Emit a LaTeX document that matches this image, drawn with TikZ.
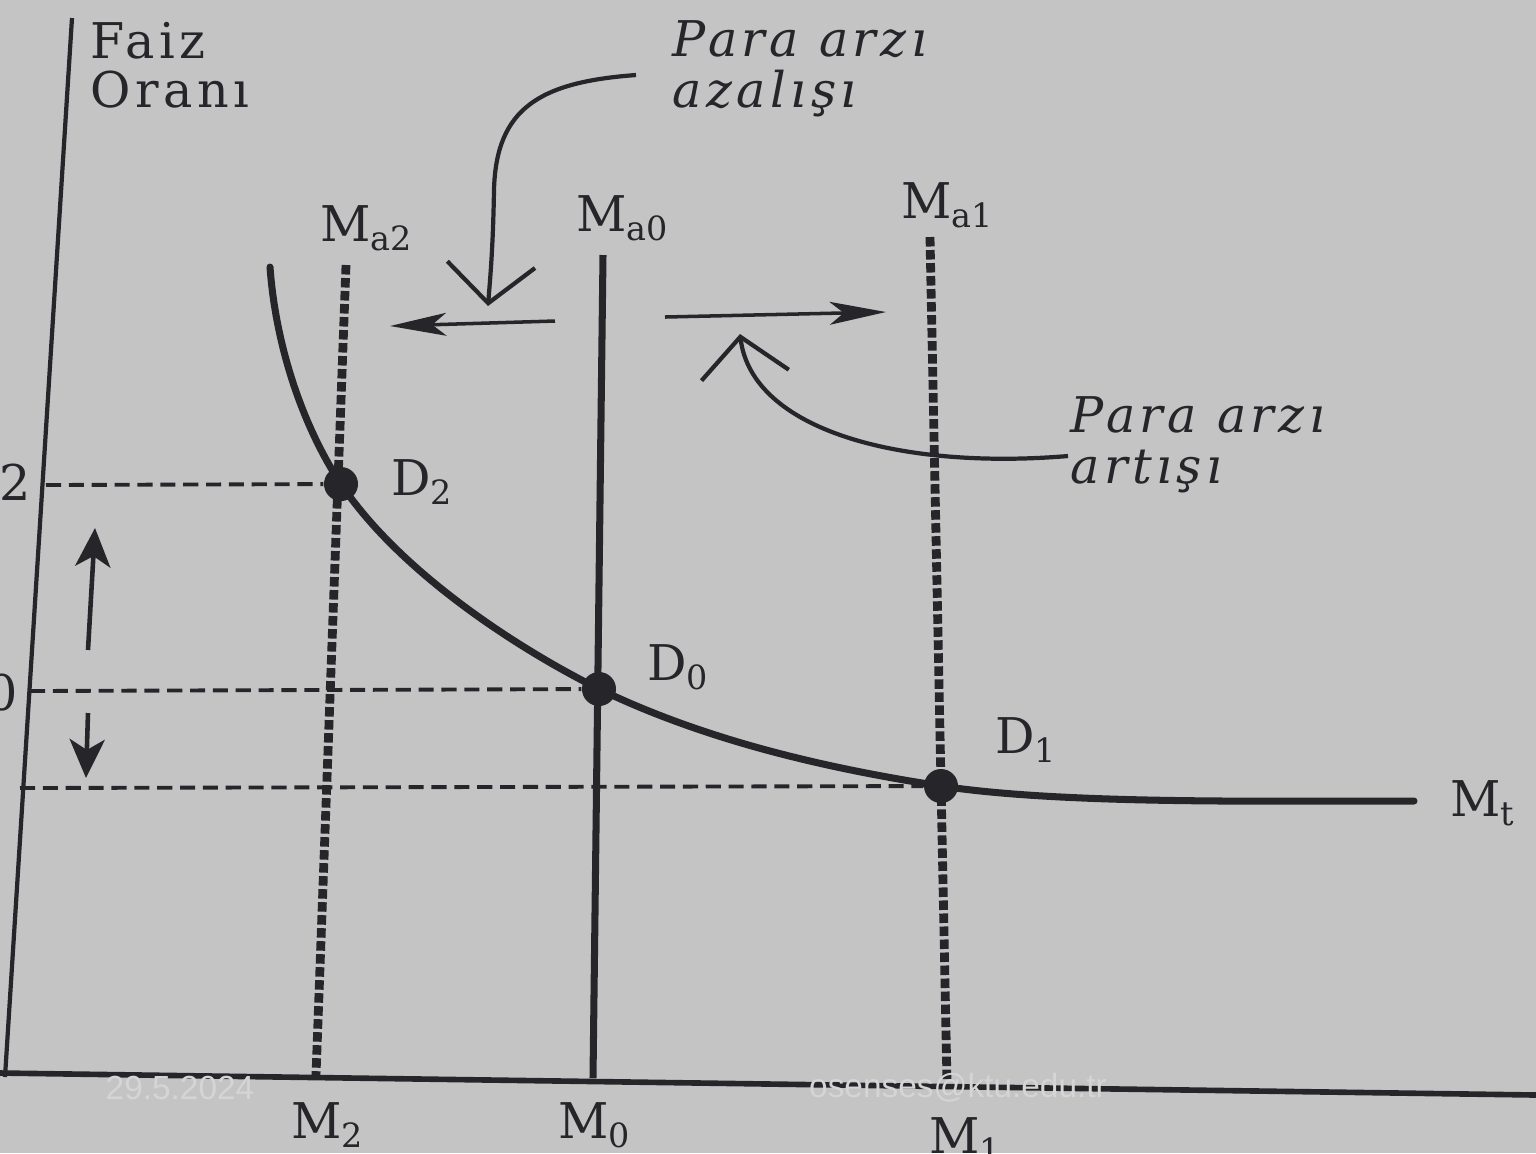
\documentclass[tikz,border=0pt]{standalone}
\usepackage{fontspec}
\setmainfont{DejaVu Serif}
\setsansfont{Liberation Sans}
\newfontfamily\notefont[LetterSpace=9]{DejaVu Serif}
\usetikzlibrary{arrows.meta,positioning}
\definecolor{paper}{RGB}{196,196,197}
\definecolor{ink}{RGB}{38,38,42}
\definecolor{wmark}{RGB}{214,212,212}
\newcommand{\lowsub}[1]{\raisebox{-2.5pt}{\fontsize{9.5}{10}\selectfont #1}}
\tikzset{
  >={Stealth},
  axisline/.style={draw=ink, line width=1.2pt},
  money/.style={draw=ink, line width=2pt},
  moneydots/.style={draw=ink, line width=2.5pt, dash pattern=on 2.7pt off 1pt},
  guide/.style={draw=ink, line width=1.1pt, dash pattern=on 4.3pt off 2.2pt},
  move/.style={draw=ink, line width=1pt, -{Stealth[length=16pt,width=6.5pt,inset=4pt]}},
  rate/.style={draw=ink, line width=1.3pt, -{Stealth[length=11pt,width=10pt,inset=3pt]}},
  curlarrow/.style={draw=ink, line width=1.2pt, -{Straight Barb[length=11pt,width=25pt]}},
  eq/.style={circle, fill=ink, inner sep=0pt, minimum size=0.34cm},
  lbl/.style={text=ink, font=\fontsize{14}{14}\selectfont, inner sep=0pt},
  note/.style={text=ink, align=left, font=\notefont\itshape\fontsize{14}{14.5}\selectfont, inner sep=0pt, anchor=north west},
  watermark/.style={text=wmark, font=\sffamily\fontsize{9.5}{10}\selectfont, inner sep=0pt},
}

\begin{document}
\begin{tikzpicture}[x=0.01cm, y=-0.01cm]
  \fill[paper] (0,0) rectangle (1536,1153);
  \useasboundingbox (0,0) rectangle (1536,1153);

  % axes
  \coordinate (ytop)   at (72,18);
  \coordinate (ybot)   at (5,1077);
  \coordinate (xleft)  at (0,1073);
  \coordinate (xright) at (1536,1095);
  \draw[axisline] (ytop) -- (ybot);
  \draw[axisline, line width=1.6pt] (xleft) -- (xright);
  \node[text=ink, align=left, anchor=north west, inner sep=0pt,
        font=\notefont\fontsize{14}{13.8}\selectfont] (faiz) at (90,22) {Faiz\\Oranı};

  % money supply lines
  \coordinate (a2top) at (346,265);  \coordinate (a2bot) at (316,1075);
  \coordinate (a0top) at (603,255);  \coordinate (a0bot) at (593,1078);
  \coordinate (a1top) at (930,237);  \coordinate (a1bot) at (947,1082);
  \draw[moneydots] (a2top) -- (a2bot);
  \draw[money] (a0top) -- (a0bot);
  \draw[moneydots] (a1top) -- (a1bot);

  % equilibria
  \node[eq] (D2) at (341,484) {};
  \node[eq] (D0) at (599,689) {};
  \node[eq] (D1) at (941,786) {};
  \coordinate (r2) at (46,485);
  \coordinate (r0) at (30,691);
  \coordinate (r1) at (20,788);
  \draw[guide] (r2) -- (D2);
  \draw[guide] (r0) -- (D0);
  \draw[guide] (r1) -- (D1);

  % demand curve
  \coordinate (mtstart) at (270,267);
  \coordinate (mtend) at (1414,801);
  \draw[money, line cap=round] (mtstart) .. controls (276,350) and (305,430) .. (D2.center)
    .. controls (397,568) and (509,644) .. (D0.center)
    .. controls (709,742) and (831,769) .. (D1.center)
    .. controls (1060,804) and (1250,801) .. (mtend);

  % labels
  \node[lbl] (ma2) at (366,228) {M\lowsub{a2}};
  \node[lbl] (ma0) at (622,218) {M\lowsub{a0}};
  \node[lbl] (ma1) at (947,205) {M\lowsub{a1}};
  \node[lbl, right=0.32cm of D2, yshift=0.02cm] (d2) {D\lowsub{2}};
  \node[lbl, right=0.3cm of D0, yshift=0.22cm] (d0) {D\lowsub{0}};
  \node[lbl, right=0.36cm of D1, yshift=0.46cm] (d1) {D\lowsub{1}};
  \node[lbl] (mt) at (1482,803) {M\lowsub{t}};
  \node[lbl] (m2) at (327,1125) {M\lowsub{2}};
  \node[lbl] (m0) at (594,1125) {M\lowsub{0}};
  \node[lbl] (m1) at (965,1140) {M\lowsub{1}};
  \node[lbl] (t2) at (15,482) {2};
  \node[lbl] (t0) at (2,693) {0};

  % shifts of supply
  \coordinate (lstart) at (555,321);  \coordinate (lend) at (390,326);
  \coordinate (rstart) at (665,317);  \coordinate (rend) at (886,312);
  \draw[move] (lstart) -- (lend);
  \draw[move] (rstart) -- (rend);
  \coordinate (upstart) at (88,650);   \coordinate (upend) at (95,528);
  \coordinate (dnstart) at (88,713);   \coordinate (dnend) at (86,778);
  \draw[rate] (upstart) -- (upend);
  \draw[rate] (dnstart) -- (dnend);

  % notes
  \node[note] (azal) at (672,20) {Para arzı\\azalışı};
  \node[note] (artis) at (1070,396) {Para arzı\\artışı};
  \coordinate (azalfrom) at (636,75);   \coordinate (azalto) at (488,306);
  \coordinate (artfrom) at (1068,456);  \coordinate (artto) at (740,334);
  \draw[curlarrow] (azalfrom) .. controls (540,82) and (496,108) .. (494,190)
    .. controls (493,250) and (490,280) .. (azalto);
  \draw[curlarrow] (artfrom) .. controls (900,470) and (752,430) .. (artto);

  \node[watermark] (date) at (180,1088) {29.5.2024};
  \node[watermark] (mail) at (958,1088) {osenses@ktu.edu.tr};
\end{tikzpicture}
\end{document}
